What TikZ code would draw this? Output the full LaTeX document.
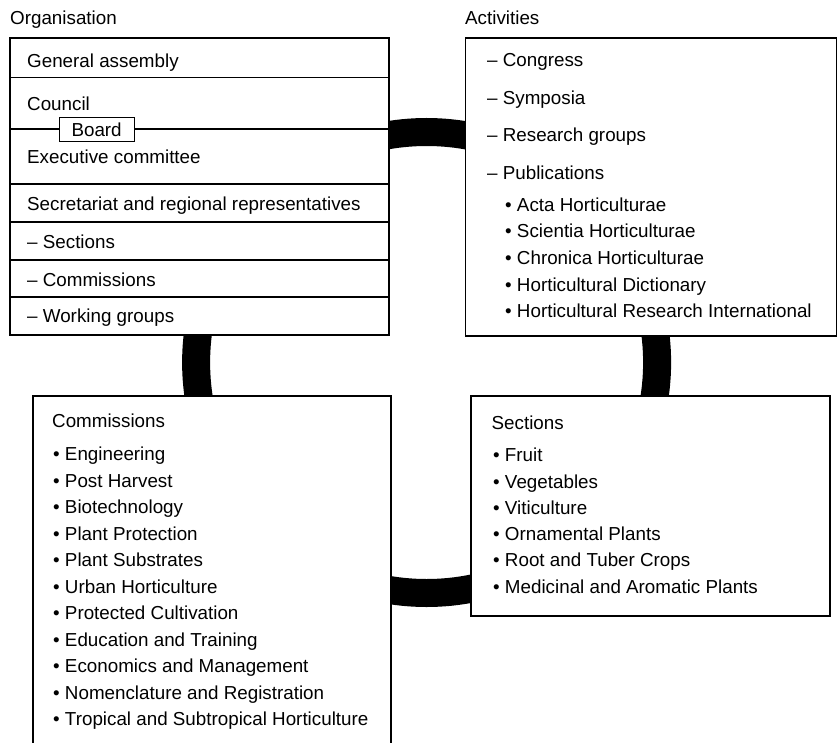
\documentclass[tikz,border=0pt]{standalone}
\usepackage{fontspec}
\setmainfont{Liberation Sans}

\begin{document}
\begin{tikzpicture}[
  x=1bp, y=-1bp,
  font=\fontsize{18.8bp}{22bp}\selectfont,
  frame/.style={
    draw,
    fill=white,
    line width=1.6bp,
    anchor=north west,
    inner sep=0pt
  },
  rule/.style={line width=1.2bp},
  txt/.style={anchor=base west, inner sep=0pt},
  ring/.style={line width=28bp}
]
\useasboundingbox[fill=white] (0,0) rectangle (837,743);
% ring behind the four boxes
\draw[ring] (426.6,362.5) circle (230.5bp);
% boxes
\node[frame, minimum width=379bp, minimum height=297bp] (org) at (9,37) {};
\node[frame, minimum width=371bp, minimum height=298bp] (act) at (464.5,37) {};
\node[frame, minimum width=358bp, minimum height=370bp] (com) at (32,395) {};
\node[frame, minimum width=359bp, minimum height=220bp] (sec) at (470,395) {};
% rows of the organisation box
\foreach \yy in {77.7,129,184,222,260,297}
  \draw[rule] (org.west |- 0,\yy) -- (org.east |- 0,\yy);
\node[draw, fill=white, line width=1.2bp, inner sep=0pt,
  minimum width=75bp, minimum height=24bp] (board) at (96.6,129.5) {Board};
% titles
\node[txt] (orgtitle) at (10,25) {Organisation};
\node[txt] (acttitle) at (465,25) {Activities};
% organisation
\foreach \name/\yy/\label in {ga/67.7/General assembly, cl/110/Council,
    ec/163.5/Executive committee, sr/210.7/Secretariat and regional representatives,
    se/248.3/– Sections, cm/286/– Commissions, wg/322.7/– Working groups}
  \node[txt] (org-\name) at (27,\yy) {\label};
% activities
\foreach \name/\yy/\label in {cg/66.7/Congress, sy/104.3/Symposia,
    rg/141.7/Research groups, pb/179/Publications}
  \node[txt] (act-\name) at (487,\yy) {– \label};
\foreach \label [count=\i] in {Acta Horticulturae, Scientia Horticulturae,
    Chronica Horticulturae, Horticultural Dictionary,
    Horticultural Research International}
  \node[txt] (pub-\i) at (505,{184.3+26.7*\i}) {• \label};
% commissions
\node[txt] (comtitle) at (52,427) {Commissions};
\foreach \label [count=\i] in {Engineering, Post Harvest, Biotechnology,
    Plant Protection, Plant Substrates, Urban Horticulture,
    Protected Cultivation, Education and Training, Economics and Management,
    Nomenclature and Registration, Tropical and Subtropical Horticulture}
  \node[txt] (com-\i) at (53,{434+26.5*\i}) {• \label};
% sections
\node[txt] (sectitle) at (491.5,429) {Sections};
\foreach \label [count=\i] in {Fruit, Vegetables, Viticulture,
    Ornamental Plants, Root and Tuber Crops, Medicinal and Aromatic Plants}
  \node[txt] (sec-\i) at (493,{435.4+26.3*\i}) {• \label};
\end{tikzpicture}
\end{document}
